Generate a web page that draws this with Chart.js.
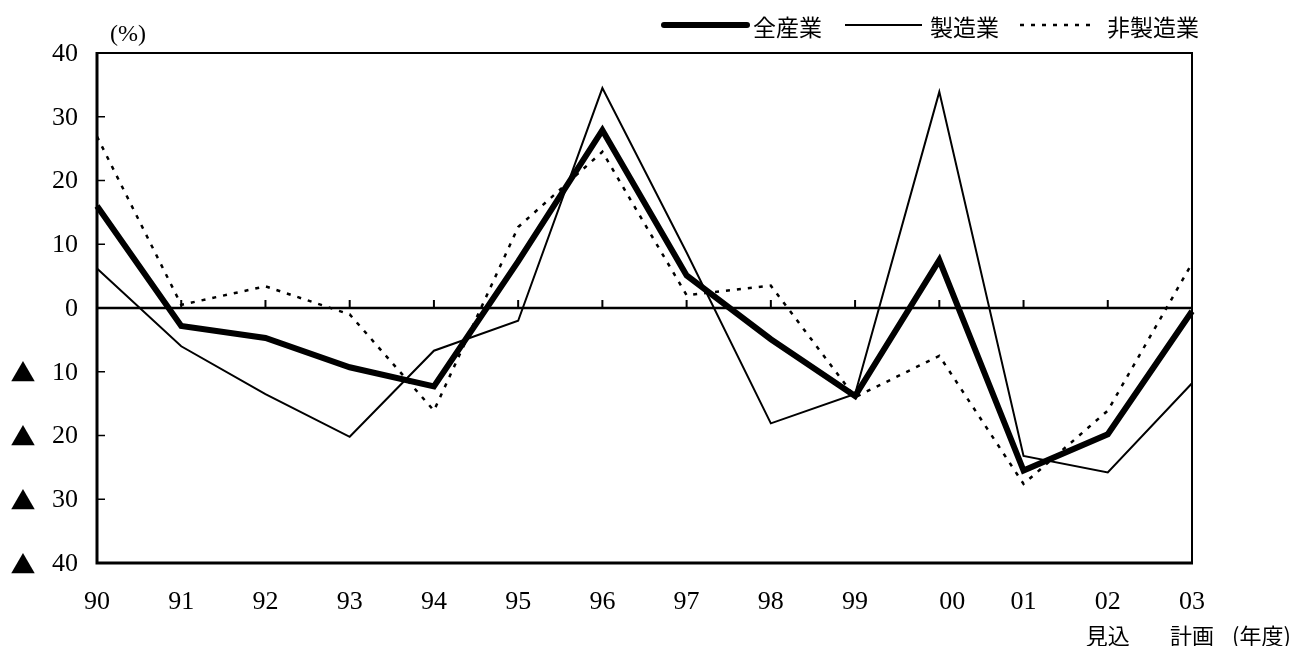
<!DOCTYPE html>
<html>
<head>
<meta charset="utf-8">
<script src="https://cdn.jsdelivr.net/npm/chart.js@4/dist/chart.umd.min.js"></script>
<style>
  html, body { margin: 0; padding: 0; background: #fff; }
  canvas { display: block; }
</style>
</head>
<body>
<canvas id="chart" width="1302" height="646"></canvas>
<script>
// 年度
const years = ["90", "91", "92", "93", "94", "95", "96", "97", "98", "99", "00", "01", "02", "03"];
const yearNotes = ["", "", "", "", "", "", "", "", "", "", "", "", "見込", "計画"];
// 前年度比 (%)
const allIndustry = [16.0, -2.8, -4.7, -9.3, -12.3, 7.3, 27.9, 5.1, -4.9, -13.8, 7.5, -25.5, -19.8, -0.5];
const manufacturing = [6.2, -6.0, -13.5, -20.2, -6.7, -2.0, 34.5, 8.7, -18.1, -13.5, 33.9, -23.2, -25.8, -11.8];
const nonManufacturing = [26.9, 0.5, 3.4, -1.0, -16.1, 12.7, 24.5, 2.0, 3.5, -14.0, -7.5, -27.6, -16.1, 7.0];
const yTicks = [40, 30, 20, 10, 0, -10, -20, -30, -40];

const SERIF = '"Liberation Serif", "DejaVu Serif", serif';
const JP = '"Noto Sans CJK JP", "Noto Sans", sans-serif';

const decor = {
  id: "decor",
  beforeDatasetsDraw(chart) {
    const ctx = chart.ctx;
    const x = chart.scales.x, y = chart.scales.y;
    const a = chart.chartArea;
    ctx.save();
    ctx.strokeStyle = "#000";
    // zero line
    const y0 = y.getPixelForValue(0);
    ctx.lineWidth = 2.5;
    ctx.beginPath();
    ctx.moveTo(a.left, y0);
    ctx.lineTo(a.right, y0);
    ctx.stroke();
    // x ticks on zero line
    ctx.lineWidth = 2;
    years.forEach((yr, i) => {
      const px = x.getPixelForValue(i);
      ctx.beginPath();
      ctx.moveTo(px, y0);
      ctx.lineTo(px, y0 - 8);
      ctx.stroke();
    });
    // y ticks inward
    ctx.lineWidth = 1.5;
    yTicks.forEach((v) => {
      const py = y.getPixelForValue(v);
      ctx.beginPath();
      ctx.moveTo(a.left, py);
      ctx.lineTo(a.left + 8, py);
      ctx.stroke();
    });
    ctx.restore();
  },
  afterDatasetsDraw(chart) {
    const ctx = chart.ctx;
    const x = chart.scales.x, y = chart.scales.y;
    const a = chart.chartArea;
    ctx.save();
    ctx.strokeStyle = "#000";
    ctx.fillStyle = "#000";
    // frame
    ctx.lineWidth = 2;
    ctx.beginPath();
    ctx.moveTo(a.left, a.top);
    ctx.lineTo(a.right, a.top);
    ctx.lineTo(a.right, a.bottom);
    ctx.stroke();
    ctx.lineWidth = 3;
    ctx.beginPath();
    ctx.moveTo(a.left, a.top - 1);
    ctx.lineTo(a.left, a.bottom);
    ctx.lineTo(a.right + 1, a.bottom);
    ctx.stroke();

    // y labels
    ctx.textBaseline = "middle";
    yTicks.forEach((v) => {
      const py = y.getPixelForValue(v);
      ctx.font = "26px " + SERIF;
      ctx.textAlign = "right";
      ctx.fillText(String(Math.abs(v)), 78, py + 1);
      if (v < 0) {
        ctx.font = "25px " + JP;
        ctx.textAlign = "center";
        ctx.fillText("▲", 23, py + 1);
      }
    });
    // unit
    ctx.font = "24px " + SERIF;
    ctx.textAlign = "center";
    ctx.fillText("(%)", 128, 35);

    // x labels
    ctx.font = "26px " + SERIF;
    years.forEach((yr, i) => {
      const shift = yr === "00" ? 13 : 0;
      ctx.fillText(yr, x.getPixelForValue(i) + shift, 602);
    });
    ctx.font = "22px " + JP;
    yearNotes.forEach((n, i) => {
      if (n) ctx.fillText(n, x.getPixelForValue(i), 636);
    });
    ctx.textAlign = "left";
    ctx.fillText("(年度)", 1232, 636);

    // legend
    const items = [
      { x1: 664, x2: 747, tx: 753 },
      { x1: 845, x2: 922, tx: 930 },
      { x1: 1020, x2: 1097, tx: 1107 }
    ];
    chart.data.datasets.forEach((ds, i) => {
      const it = items[i];
      ctx.lineWidth = ds.borderWidth;
      ctx.lineCap = i === 0 ? "round" : "butt";
      ctx.setLineDash(ds.borderDash || []);
      ctx.beginPath();
      ctx.moveTo(it.x1, 25);
      ctx.lineTo(it.x2, 25);
      ctx.stroke();
      ctx.setLineDash([]);
      ctx.font = "23px " + JP;
      ctx.fillText(ds.label, it.tx, 27);
    });
    ctx.restore();
  }
};

new Chart(document.getElementById("chart"), {
  type: "line",
  data: {
    labels: years,
    datasets: [
      {
        label: "全産業",
        data: allIndustry,
        borderColor: "#000",
        borderWidth: 6,
        borderJoinStyle: "miter",
      },
      {
        label: "製造業",
        data: manufacturing,
        borderColor: "#000",
        borderWidth: 2,
      },
      {
        label: "非製造業",
        data: nonManufacturing,
        borderColor: "#000",
        borderWidth: 2.5,
        borderDash: [4, 7],
      },
    ],
  },
  options: {
    responsive: false,
    devicePixelRatio: 1,
    animation: false,
    layout: {
      padding: { left: 97, right: 110, top: 53, bottom: 83 },
    },
    elements: {
      point: { radius: 0, hoverRadius: 0 },
      line: { tension: 0, fill: false },
    },
    scales: {
      x: { display: false, offset: false },
      y: { display: false, min: -40, max: 40 },
    },
    plugins: {
      legend: { display: false },
      tooltip: { enabled: false },
    },
  },
  plugins: [decor],
});
</script>
</body>
</html>
